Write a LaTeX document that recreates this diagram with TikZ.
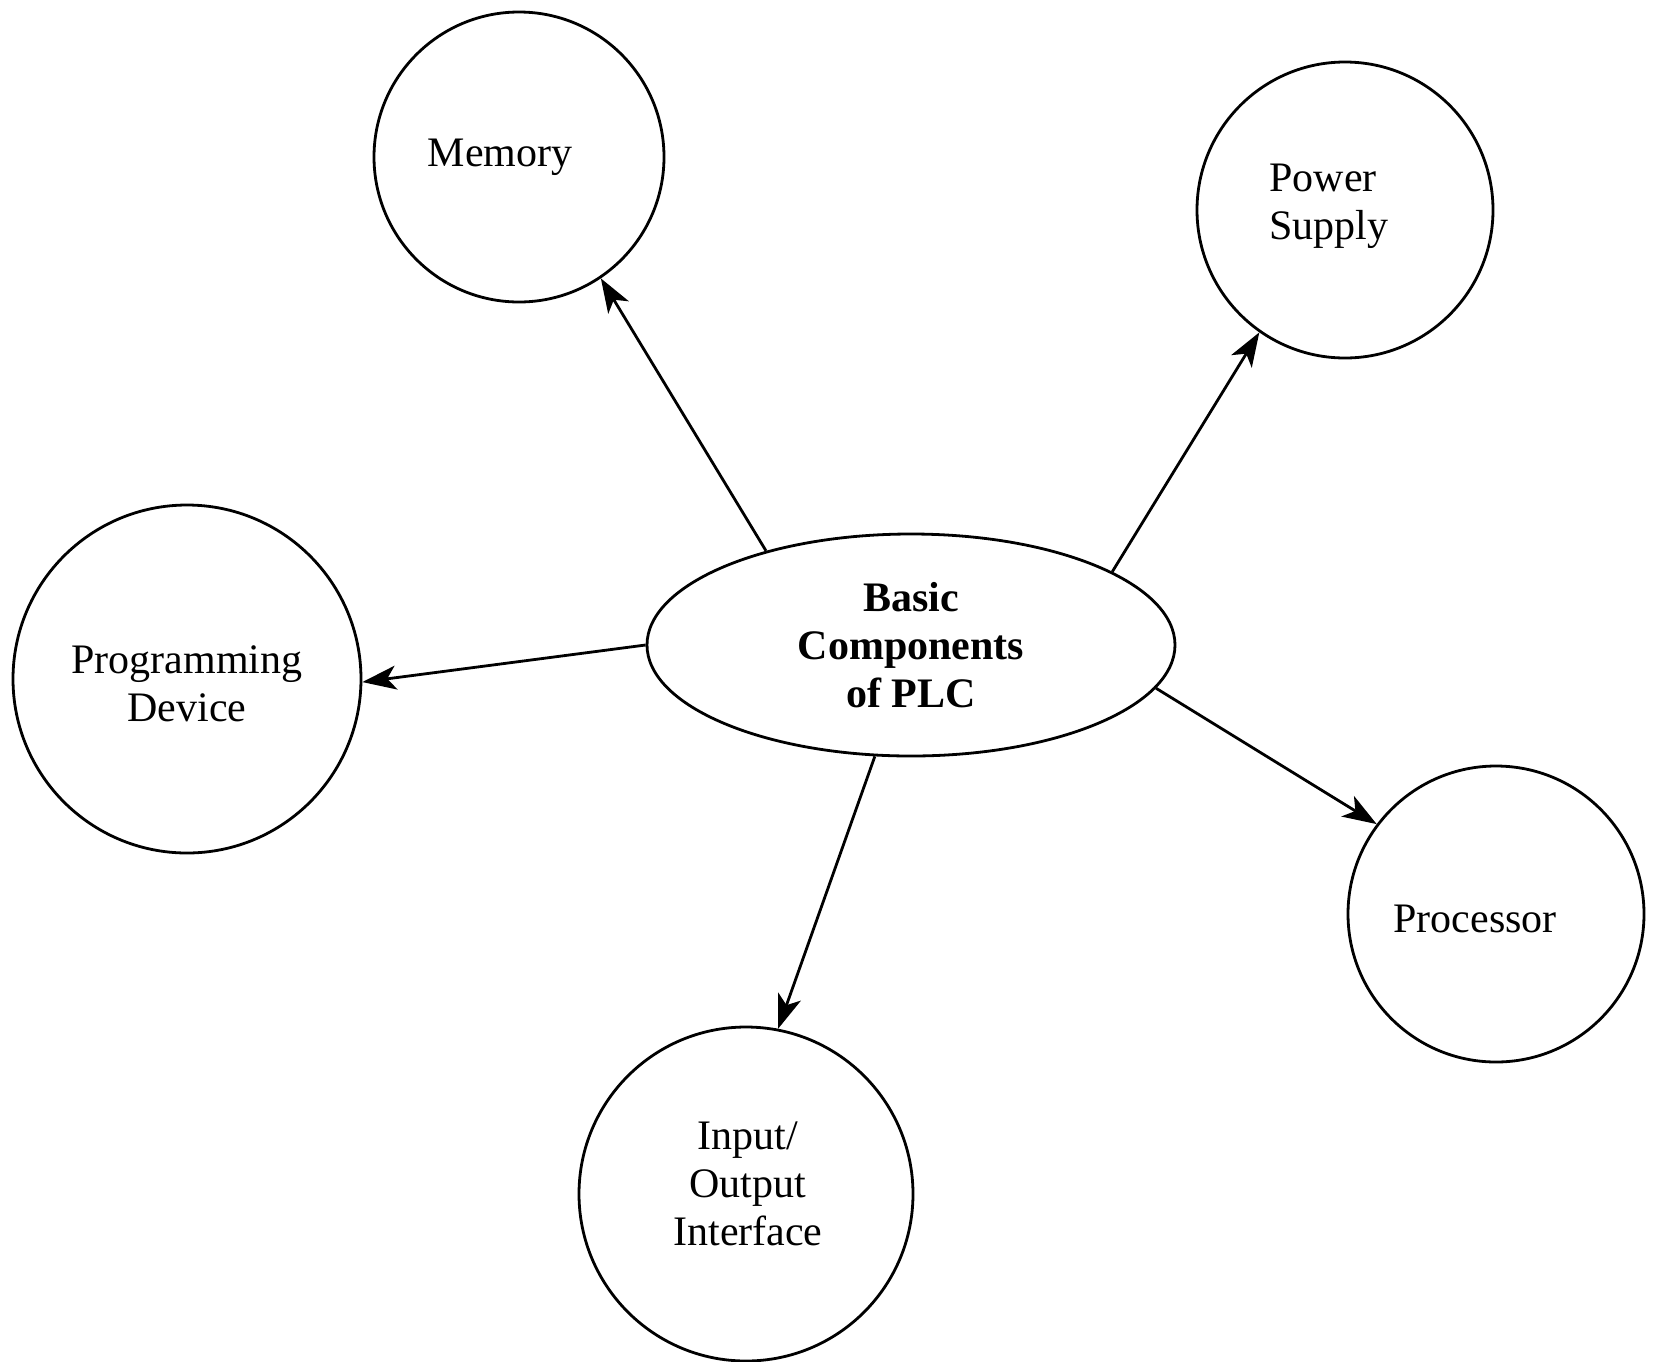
\documentclass[tikz,border=0pt]{standalone}
\usepackage{fontspec}
\setmainfont{Liberation Serif}
\usetikzlibrary{shapes.geometric,arrows.meta}
\begin{document}
\begin{tikzpicture}[x=0.5pt,y=-0.5pt,
  lbl/.style={font=\fontsize{21}{24}\selectfont, align=center, inner sep=0pt},
  part/.style={draw, circle, line width=1.4pt, inner sep=0pt},
  hub/.style={draw, ellipse, line width=1.4pt, inner sep=0pt,
    minimum width=264pt, minimum height=111pt,
    font=\bfseries\fontsize{21}{24}\selectfont, align=center},
  link/.style={line width=1.4pt, -{Stealth[length=17pt,width=12pt,inset=4.5pt]}}]
\useasboundingbox (0,0) rectangle (1654,1361);

% central hub
\node[hub] (plc) at (911,645) {Basic\\Components\\of PLC};

% surrounding components
\node[part, minimum size=145pt,
  label={[lbl,xshift=-9.5pt]center:Memory}] (mem) at (519,157) {};
\node[part, minimum size=148pt,
  label={[lbl,align=left,xshift=-8pt,yshift=2pt]center:Power\\Supply}] (pwr) at (1345,210) {};
\node[part, minimum size=174pt,
  label={[lbl,yshift=-2.5pt]center:Programming\\Device}] (prog) at (187,679) {};
\node[part, minimum size=148pt,
  label={[lbl,xshift=-10.5pt,yshift=-2.5pt]center:Processor}] (proc) at (1496,914) {};
\node[part, minimum size=167pt,
  label={[lbl,xshift=1pt,yshift=5pt]center:Input/\\Output\\Interface}] (io) at (746,1194) {};

% connectors
\draw[link] (plc.147) -- (mem.-56);
\draw[link] (plc.20) -- (pwr.235);
\draw[link] (plc.180) -- (prog.-1);
\draw[link] (plc.-10) -- (proc.143);
\draw[link] (plc.252) -- (io.79);
\end{tikzpicture}
\end{document}
